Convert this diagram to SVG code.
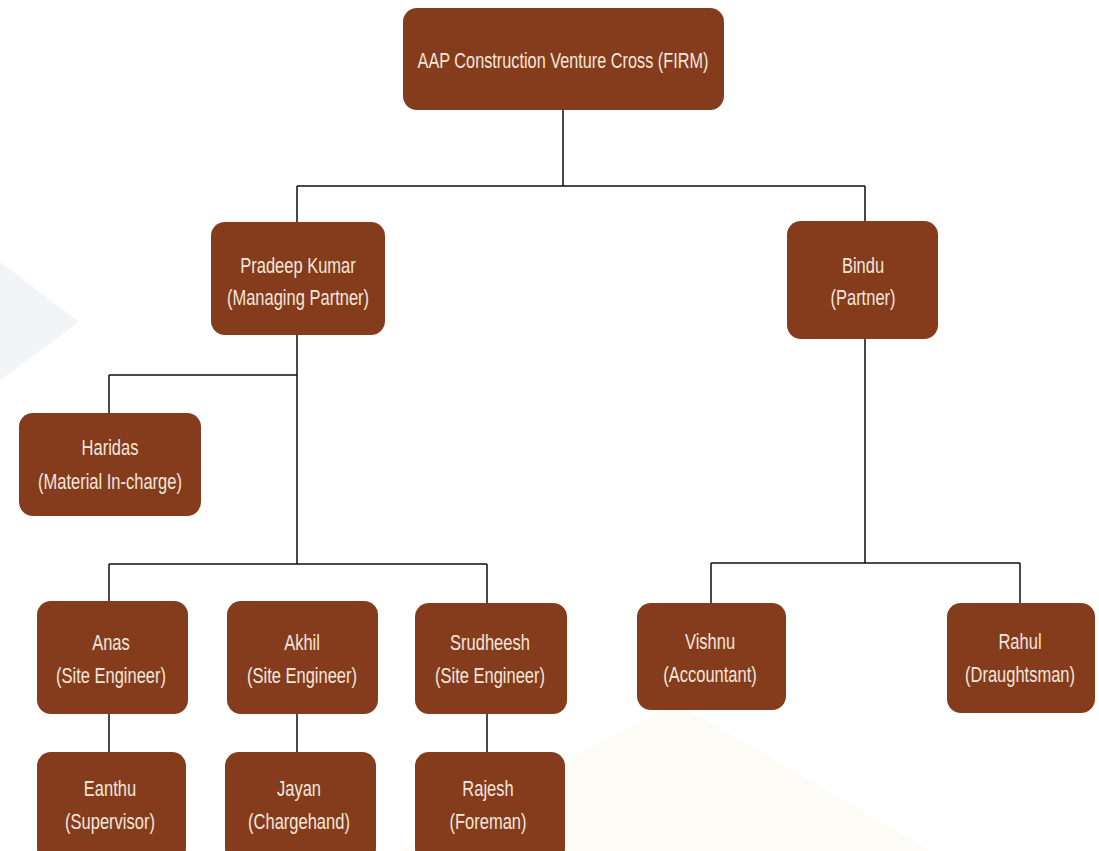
<svg xmlns="http://www.w3.org/2000/svg" width="1099" height="851" viewBox="0 0 1099 851">
<style>
.n{fill:#843c1c;}
.t{font-family:"Liberation Sans",Arial,sans-serif;font-size:22px;fill:#f3e7dc;text-anchor:middle;}
.c{stroke:#4a4a4a;stroke-width:2;fill:none;}
.h{stroke:#111;stroke-width:1.6;fill:none;}
</style>
<rect width="1099" height="851" fill="#ffffff"/>
<polygon points="0,262 79,322 0,380" fill="#f3f4f8"/>
<polygon points="677,703 930,851 398,851" fill="#fcfbf6"/>
<g id="connectors">
<path class="c" d="M563,110 V186 M297,186 V222 M865,186 V222 M297,335 V564 M109,375 V413 M109,564 V601 M487,564 V603 M109,714 V752 M297,714 V752 M487,714 V752 M865,339 V563 M711,563 V603 M1020,563 V603"/>
<path class="h" d="M297,186 H865 M109,375 H297 M109,564 H487 M711,563 H1020"/>
</g>
<g id="firm"><rect class="n" x="403" y="8" width="321" height="102" rx="14"/><text class="t" transform="translate(563,68) scale(0.74,1)">AAP Construction Venture Cross (FIRM)</text></g>
<g id="pradeep"><rect class="n" x="211" y="222" width="174" height="113" rx="14"/><text class="t" transform="translate(298,273) scale(0.75,1)">Pradeep Kumar</text><text class="t" transform="translate(298,305) scale(0.75,1)">(Managing Partner)</text></g>
<g id="bindu"><rect class="n" x="787" y="221" width="151" height="118" rx="14"/><text class="t" transform="translate(863,273) scale(0.75,1)">Bindu</text><text class="t" transform="translate(863,305) scale(0.75,1)">(Partner)</text></g>
<g id="haridas"><rect class="n" x="19" y="413" width="182" height="103" rx="14"/><text class="t" transform="translate(110,455) scale(0.75,1)">Haridas</text><text class="t" transform="translate(110,489) scale(0.75,1)">(Material In-charge)</text></g>
<g id="anas"><rect class="n" x="37" y="601" width="151" height="113" rx="14"/><text class="t" transform="translate(111,650) scale(0.75,1)">Anas</text><text class="t" transform="translate(111,683) scale(0.75,1)">(Site Engineer)</text></g>
<g id="akhil"><rect class="n" x="227" y="601" width="151" height="113" rx="14"/><text class="t" transform="translate(302,650) scale(0.75,1)">Akhil</text><text class="t" transform="translate(302,683) scale(0.75,1)">(Site Engineer)</text></g>
<g id="srudheesh"><rect class="n" x="415" y="603" width="152" height="111" rx="14"/><text class="t" transform="translate(490,650) scale(0.75,1)">Srudheesh</text><text class="t" transform="translate(490,683) scale(0.75,1)">(Site Engineer)</text></g>
<g id="eanthu"><rect class="n" x="37" y="752" width="149" height="110" rx="14"/><text class="t" transform="translate(110,796) scale(0.75,1)">Eanthu</text><text class="t" transform="translate(110,829) scale(0.75,1)">(Supervisor)</text></g>
<g id="jayan"><rect class="n" x="225" y="752" width="151" height="110" rx="14"/><text class="t" transform="translate(299,796) scale(0.75,1)">Jayan</text><text class="t" transform="translate(299,829) scale(0.75,1)">(Chargehand)</text></g>
<g id="rajesh"><rect class="n" x="415" y="752" width="150" height="110" rx="14"/><text class="t" transform="translate(488,796) scale(0.75,1)">Rajesh</text><text class="t" transform="translate(488,829) scale(0.75,1)">(Foreman)</text></g>
<g id="vishnu"><rect class="n" x="637" y="603" width="149" height="107" rx="14"/><text class="t" transform="translate(710,649) scale(0.75,1)">Vishnu</text><text class="t" transform="translate(710,682) scale(0.75,1)">(Accountant)</text></g>
<g id="rahul"><rect class="n" x="947" y="603" width="148" height="110" rx="14"/><text class="t" transform="translate(1020,649) scale(0.75,1)">Rahul</text><text class="t" transform="translate(1020,682) scale(0.75,1)">(Draughtsman)</text></g>
</svg>
